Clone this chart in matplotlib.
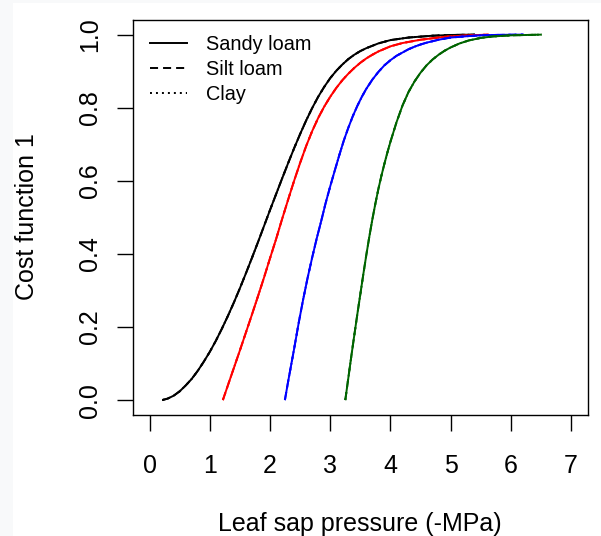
import matplotlib
matplotlib.use('Agg')
import matplotlib.pyplot as plt
from matplotlib.lines import Line2D
from matplotlib.patches import Rectangle

# ---- data ----
black_x = [0.21, 0.3, 0.4, 0.5, 0.6, 0.7, 0.8, 0.9, 1.0, 1.1, 1.2, 1.3, 1.4, 1.5, 1.6, 1.7,
           1.8, 1.9, 2.0, 2.1, 2.2, 2.3, 2.4, 2.5, 2.6, 2.7, 2.8, 2.9, 3.0, 3.1, 3.2, 3.3,
           3.4, 3.5, 3.6, 3.8, 4.0, 4.3, 4.7, 5.0, 5.4]
black_y = [0.0, 0.004, 0.012, 0.024, 0.04, 0.058, 0.08, 0.105, 0.132, 0.162, 0.195, 0.23,
           0.267, 0.306, 0.347, 0.389, 0.432, 0.476, 0.52, 0.563, 0.606, 0.648, 0.689, 0.728,
           0.765, 0.799, 0.83, 0.857, 0.881, 0.901, 0.918, 0.933, 0.945, 0.955, 0.963, 0.976,
           0.985, 0.992, 0.997, 0.999, 1.0]

red_x = [1.217, 1.3, 1.4, 1.5, 1.6, 1.7, 1.8, 1.9, 2.0, 2.1, 2.2, 2.3, 2.4, 2.5, 2.6, 2.7,
         2.8, 2.9, 3.0, 3.1, 3.2, 3.3, 3.4, 3.5, 3.6, 3.7, 3.8, 4.0, 4.2, 4.5, 4.9, 5.3, 5.63]
red_y = [0.0, 0.04, 0.088, 0.136, 0.185, 0.234, 0.284, 0.335, 0.388, 0.44, 0.495, 0.548,
         0.6, 0.649, 0.695, 0.736, 0.772, 0.803, 0.83, 0.854, 0.875, 0.893, 0.909, 0.923,
         0.935, 0.945, 0.954, 0.968, 0.977, 0.986, 0.994, 0.998, 1.0]

blue_x = [2.247, 2.3, 2.4, 2.475, 2.55, 2.625, 2.7, 2.775, 2.85, 2.925, 3.0, 3.075, 3.15,
          3.225, 3.3, 3.375, 3.45, 3.525, 3.6, 3.7, 3.8, 3.9, 4.0, 4.1, 4.2, 4.3, 4.4, 4.5,
          4.6, 4.7, 4.8, 4.9, 5.0, 5.15, 5.3, 5.5, 5.7, 5.9, 6.21]
blue_y = [0.0, 0.05, 0.14, 0.21, 0.275, 0.335, 0.39, 0.442, 0.49, 0.54, 0.585, 0.628, 0.67,
          0.71, 0.745, 0.777, 0.805, 0.83, 0.852, 0.877, 0.898, 0.916, 0.93, 0.942, 0.951,
          0.96, 0.967, 0.973, 0.978, 0.982, 0.986, 0.989, 0.992, 0.994, 0.996, 0.998, 0.999,
          0.9995, 1.0]

green_x = [3.25, 3.3, 3.35, 3.4, 3.45, 3.5, 3.55, 3.6, 3.65, 3.7, 3.75, 3.8, 3.85, 3.9, 3.95,
           4.0, 4.1, 4.2, 4.3, 4.4, 4.5, 4.6, 4.7, 4.8, 4.9, 5.0, 5.15, 5.3, 5.5, 5.7, 6.0, 6.51]
green_y = [0.0, 0.06, 0.12, 0.178, 0.235, 0.29, 0.345, 0.398, 0.448, 0.495, 0.538, 0.578,
           0.614, 0.647, 0.678, 0.707, 0.76, 0.806, 0.843, 0.872, 0.896, 0.916, 0.932, 0.945,
           0.956, 0.965, 0.976, 0.984, 0.991, 0.995, 0.998, 1.0]

series = [
    (black_x, black_y, 'black'),
    (red_x, red_y, '#FF0000'),
    (blue_x, blue_y, '#0000FF'),
    (green_x, green_y, '#006400'),
]

legend_labels = ['Sandy loam', 'Silt loam', 'Clay']
x_ticks = [0, 1, 2, 3, 4, 5, 6, 7]
y_ticks = [0.0, 0.2, 0.4, 0.6, 0.8, 1.0]
y_tick_labels = ['0.0', '0.2', '0.4', '0.6', '0.8', '1.0']
x_label = 'Leaf sap pressure (-MPa)'
y_label = 'Cost function 1'

# ---- styling ----
plt.rcParams['font.family'] = ['Liberation Sans', 'DejaVu Sans']
plt.rcParams['lines.scale_dashes'] = False

W, H = 601, 536
fig = plt.figure(figsize=(W / 100, H / 100), dpi=100, facecolor='#f8f9fa')
fig.patches.append(Rectangle((13 / W, 0), 1 - 13 / W, 1 - 3 / H, transform=fig.transFigure,
                             facecolor='white', edgecolor='none', zorder=-10))

left, right, top, bottom = 132.7, 588.0, 20.0, 414.7
ax = fig.add_axes([left / W, 1 - bottom / H, (right - left) / W, (bottom - top) / H])
ax.set_xlim(-0.28, 7.28)
ax.set_ylim(-0.04, 1.04)

styles = ['-', (0, (5.8, 3.6)), (0, (1.4, 2.9))]
lw = 1.4
for xs, ys, col in series:
    for st in styles:
        ax.plot(xs, ys, color=col, lw=lw, linestyle=st, solid_capstyle='butt',
                solid_joinstyle='round')

for sp in ax.spines.values():
    sp.set_linewidth(1.0)
    sp.set_color('black')

ax.set_xticks(x_ticks)
ax.set_xticklabels([str(t) for t in x_ticks])
ax.set_yticks(y_ticks)
ax.set_yticklabels(y_tick_labels)
ax.tick_params(direction='out', length=11.5, width=1.0, labelsize=18, colors='black')
ax.tick_params(axis='x', pad=17)
ax.tick_params(axis='y', pad=10.6)
for lab in ax.get_yticklabels():
    lab.set_rotation(90)
    lab.set_va('center')
    lab.set_ha('right')

fig.text(360 / W, 1 - 531 / H, x_label, ha='center', va='baseline', fontsize=18)
fig.text(27 / W, 1 - 217 / H, y_label, ha='center', va='center', rotation=90, fontsize=18)

handles = [Line2D([], [], color='black', lw=lw, linestyle=st) for st in styles]
ax.legend(handles, legend_labels, loc='upper left', frameon=False, fontsize=14.3,
          bbox_to_anchor=((150 - left) / (right - left), (bottom - 35) / (bottom - top)),
          borderpad=0, borderaxespad=0, handlelength=1.87, handletextpad=0.97,
          labelspacing=0.3)

fig.savefig('out.png', dpi=100, facecolor=fig.get_facecolor())
